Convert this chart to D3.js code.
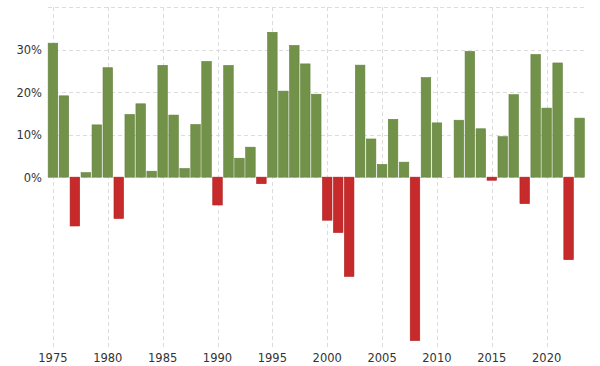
<!DOCTYPE html>
<html><head><meta charset="utf-8">
<script src="https://cdn.jsdelivr.net/npm/d3@7"></script>
<style>body{margin:0;background:#fff}svg{display:block}</style>
</head><body>
<svg id="c" width="600" height="366"></svg>
<script>
const years = d3.range(1975, 2024);
const returns = [31.55,19.15,-11.50,1.06,12.31,25.77,-9.73,14.76,17.27,1.40,
 26.33,14.62,2.03,12.40,27.25,-6.56,26.31,4.46,7.06,-1.54,
 34.11,20.26,31.01,26.67,19.53,-10.14,-13.04,-23.37,26.38,8.99,
 3.00,13.62,3.53,-38.49,23.45,12.78,0.00,13.41,29.60,11.39,
 -0.73,9.54,19.42,-6.24,28.88,16.26,26.89,-19.44,13.90];
const yTicks = [0,10,20,30,40];
const yLabels = ["0%","10%","20%","30%",""];
const xTicks = [1975,1980,1985,1990,1995,2000,2005,2010,2015,2020];

const svg = d3.select("#c");
const x = d3.scaleBand().domain(years).range([47.5,585]).paddingInner(0.13).paddingOuter(0.06);
const y = d3.scaleLinear().domain([-40,40]).range([347,7.3]);
const font = "DejaVu Sans, Verdana, sans-serif";

// horizontal gridlines
svg.append("g").selectAll("line").data(yTicks).join("line")
  .attr("x1",48).attr("x2",585)
  .attr("y1",d=>Math.round(y(d))+0.5).attr("y2",d=>Math.round(y(d))+0.5)
  .attr("stroke","#dcdcdc").attr("stroke-dasharray","4,3");
// vertical gridlines
svg.append("g").selectAll("line").data(xTicks).join("line")
  .attr("x1",d=>Math.round(x(d)+x.bandwidth()/2)+0.5).attr("x2",d=>Math.round(x(d)+x.bandwidth()/2)+0.5)
  .attr("y1",7).attr("y2",347)
  .attr("stroke","#dcdcdc").attr("stroke-dasharray","4,3");

// bars
svg.append("g").selectAll("rect").data(years).join("rect")
  .attr("x",d=>x(d))
  .attr("width",x.bandwidth())
  .attr("y",(d,i)=>y(Math.max(0,returns[i])))
  .attr("height",(d,i)=>Math.abs(y(returns[i])-y(0)))
  .attr("fill",(d,i)=>returns[i]>=0?"#72924a":"#c62a2a")
  .attr("stroke",(d,i)=>returns[i]>=0?"#65833e":"#b02020")
  .attr("stroke-width",0.6);

// y labels
svg.append("g").selectAll("text").data(yTicks).join("text")
  .attr("x",42).attr("y",d=>y(d)+4.5)
  .attr("text-anchor","end")
  .attr("font-family",font).attr("font-size",11.5).attr("fill","#333")
  .text((d,i)=>yLabels[i]);
// x labels
svg.append("g").selectAll("text").data(xTicks).join("text")
  .attr("x",d=>x(d)+x.bandwidth()/2).attr("y",362)
  .attr("text-anchor","middle")
  .attr("font-family",font).attr("font-size",11.5).attr("fill","#333")
  .text(d=>d);
</script>
</body></html>
